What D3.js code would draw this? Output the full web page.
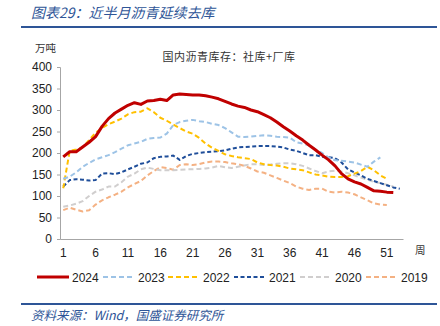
<!DOCTYPE html>
<html><head><meta charset="utf-8">
<script src="https://cdn.jsdelivr.net/npm/d3@7"></script>
<style>body{margin:0;background:#fff;} svg{display:block;}</style>
</head><body>
<script>
const weeks = d3.range(1, 54);
const tickWeeks = [1, 6, 11, 16, 21, 26, 31, 36, 41, 46, 51];
const yTicks = [0, 50, 100, 150, 200, 250, 300, 350, 400];
const years = ["2024", "2023", "2022", "2021", "2020", "2019"];
const s2024 = [191,203,203,214,225,238,262,280,293,302,311,317,313,321,322,325,322,335,337,336,335,335,333,330,326,320,314,309,306,300,296,289,282,272,261,251,240,230,218,207,195,184,170,152,140,133,128,120,112,111,109,108];
const s2023 = [140,145,155,168,177,185,190,195,202,210,218,222,226,233,235,236,245,265,272,275,277,274,272,268,265,258,248,238,237,238,240,241,240,238,237,236,225,222,218,208,200,190,183,182,180,178,173,168,180,190];
const s2022 = [118,205,208,213,230,247,258,267,273,280,290,295,296,304,295,282,275,266,258,250,245,235,222,212,205,197,193,190,188,186,178,174,172,171,168,164,162,160,155,150,148,145,144,144,146,152,158,168,160,148,140];
const s2021 = [122,137,139,138,136,137,152,153,151,155,162,168,175,178,188,191,192,194,184,193,198,200,202,203,204,206,210,213,214,215,216,216,216,215,213,208,205,200,195,195,191,190,188,178,162,155,148,140,135,130,125,120,117];
const s2020 = [75,78,82,88,100,110,115,122,122,132,145,152,162,166,163,160,160,160,161,162,162,163,164,166,170,167,165,168,171,174,174,172,173,175,176,176,174,170,164,158,153,157,159,157,153,148,143,138,133,130,126,122];
const s2019 = [67,73,68,64,67,80,90,97,103,110,120,128,135,148,158,167,165,161,172,174,172,174,178,180,180,179,176,174,170,164,157,154,148,142,136,130,122,117,114,117,117,110,108,110,108,104,97,90,83,80,79];
const seriesData = [s2024, s2023, s2022, s2021, s2020, s2019];
const colors = ["#C00000", "#9DC3E6", "#FFC000", "#1F4E9A", "#D0CECE", "#F4B183"];
const widths = [3, 2, 2, 2, 2, 2];
const dashes = [null, "5,3", "5,3", "4,2.5", "5,3", "5,3"];

const W = 440, H = 326;
const svg = d3.select("body").append("svg").attr("width", W).attr("height", H);
const cjk = "'Noto Sans CJK SC', sans-serif";
const num = "'Liberation Sans', Arial, sans-serif";
const blue = "#2E5597";

svg.append("text").attr("x", 31).attr("y", 18).attr("font-family", cjk).attr("font-size", 14)
  .attr("font-style", "italic").attr("fill", blue).text("图表29：近半月沥青延续去库");
svg.append("line").attr("x1", 21).attr("x2", 437).attr("y1", 27).attr("y2", 27)
  .attr("stroke", blue).attr("stroke-width", 2);
svg.append("line").attr("x1", 21).attr("x2", 437).attr("y1", 304).attr("y2", 304)
  .attr("stroke", blue).attr("stroke-width", 2);
svg.append("text").attr("x", 31).attr("y", 320).attr("font-family", cjk).attr("font-size", 12.5)
  .attr("font-style", "italic").attr("fill", blue).text("资料来源：Wind，国盛证券研究所");

svg.append("text").attr("x", 35).attr("y", 52).attr("font-family", cjk).attr("font-size", 10.5)
  .attr("fill", "#333").text("万吨");
svg.append("text").attr("x", 229).attr("y", 61).attr("text-anchor", "middle").attr("font-family", cjk)
  .attr("font-size", 11).attr("letter-spacing", 0.5).attr("fill", "#333").text("国内沥青库存：社库+厂库");

const x = d3.scaleBand().domain(weeks).range([60, 403]);
const y = d3.scaleLinear().domain([0, 400]).range([239, 67]);
const xc = w => x(w) + x.bandwidth() / 2;

const yAxis = svg.append("g").attr("transform", "translate(60,0)")
  .call(d3.axisLeft(y).tickValues(yTicks).tickSize(3).tickPadding(5));
yAxis.select(".domain").attr("stroke", "#A6A6A6");
yAxis.selectAll(".tick line").attr("stroke", "#A6A6A6");
yAxis.selectAll("text").attr("font-family", num).attr("font-size", 12).attr("fill", "#222");

const xAxis = svg.append("g").attr("transform", "translate(0,239)")
  .call(d3.axisBottom(x).tickValues(tickWeeks).tickSize(0).tickPadding(9).tickSizeOuter(0));
xAxis.select(".domain").attr("stroke", "#A6A6A6");
xAxis.selectAll("text").attr("font-family", num).attr("font-size", 12).attr("fill", "#222");
svg.append("text").attr("x", 415).attr("y", 254).attr("font-family", cjk).attr("font-size", 10.5)
  .attr("fill", "#333").text("周");

const line = d3.line().x((d, i) => xc(weeks[i])).y(d => y(d));
// draw older years first so 2024 on top
for (let k = seriesData.length - 1; k >= 0; k--) {
  svg.append("path").attr("d", line(seriesData[k])).attr("fill", "none")
    .attr("stroke", colors[k]).attr("stroke-width", widths[k])
    .attr("stroke-dasharray", dashes[k]).attr("stroke-linejoin", "round");
}

const legX = [37, 103, 168, 234, 300, 366];
years.forEach((yr, k) => {
  const g = svg.append("g");
  g.append("line").attr("x1", legX[k]).attr("x2", legX[k] + 32).attr("y1", 277).attr("y2", 277)
    .attr("stroke", colors[k]).attr("stroke-width", widths[k]).attr("stroke-dasharray", dashes[k]);
  g.append("text").attr("x", legX[k] + 35).attr("y", 281.5).attr("font-family", num)
    .attr("font-size", 12).attr("fill", "#222").text(yr);
});
</script>
</body></html>
